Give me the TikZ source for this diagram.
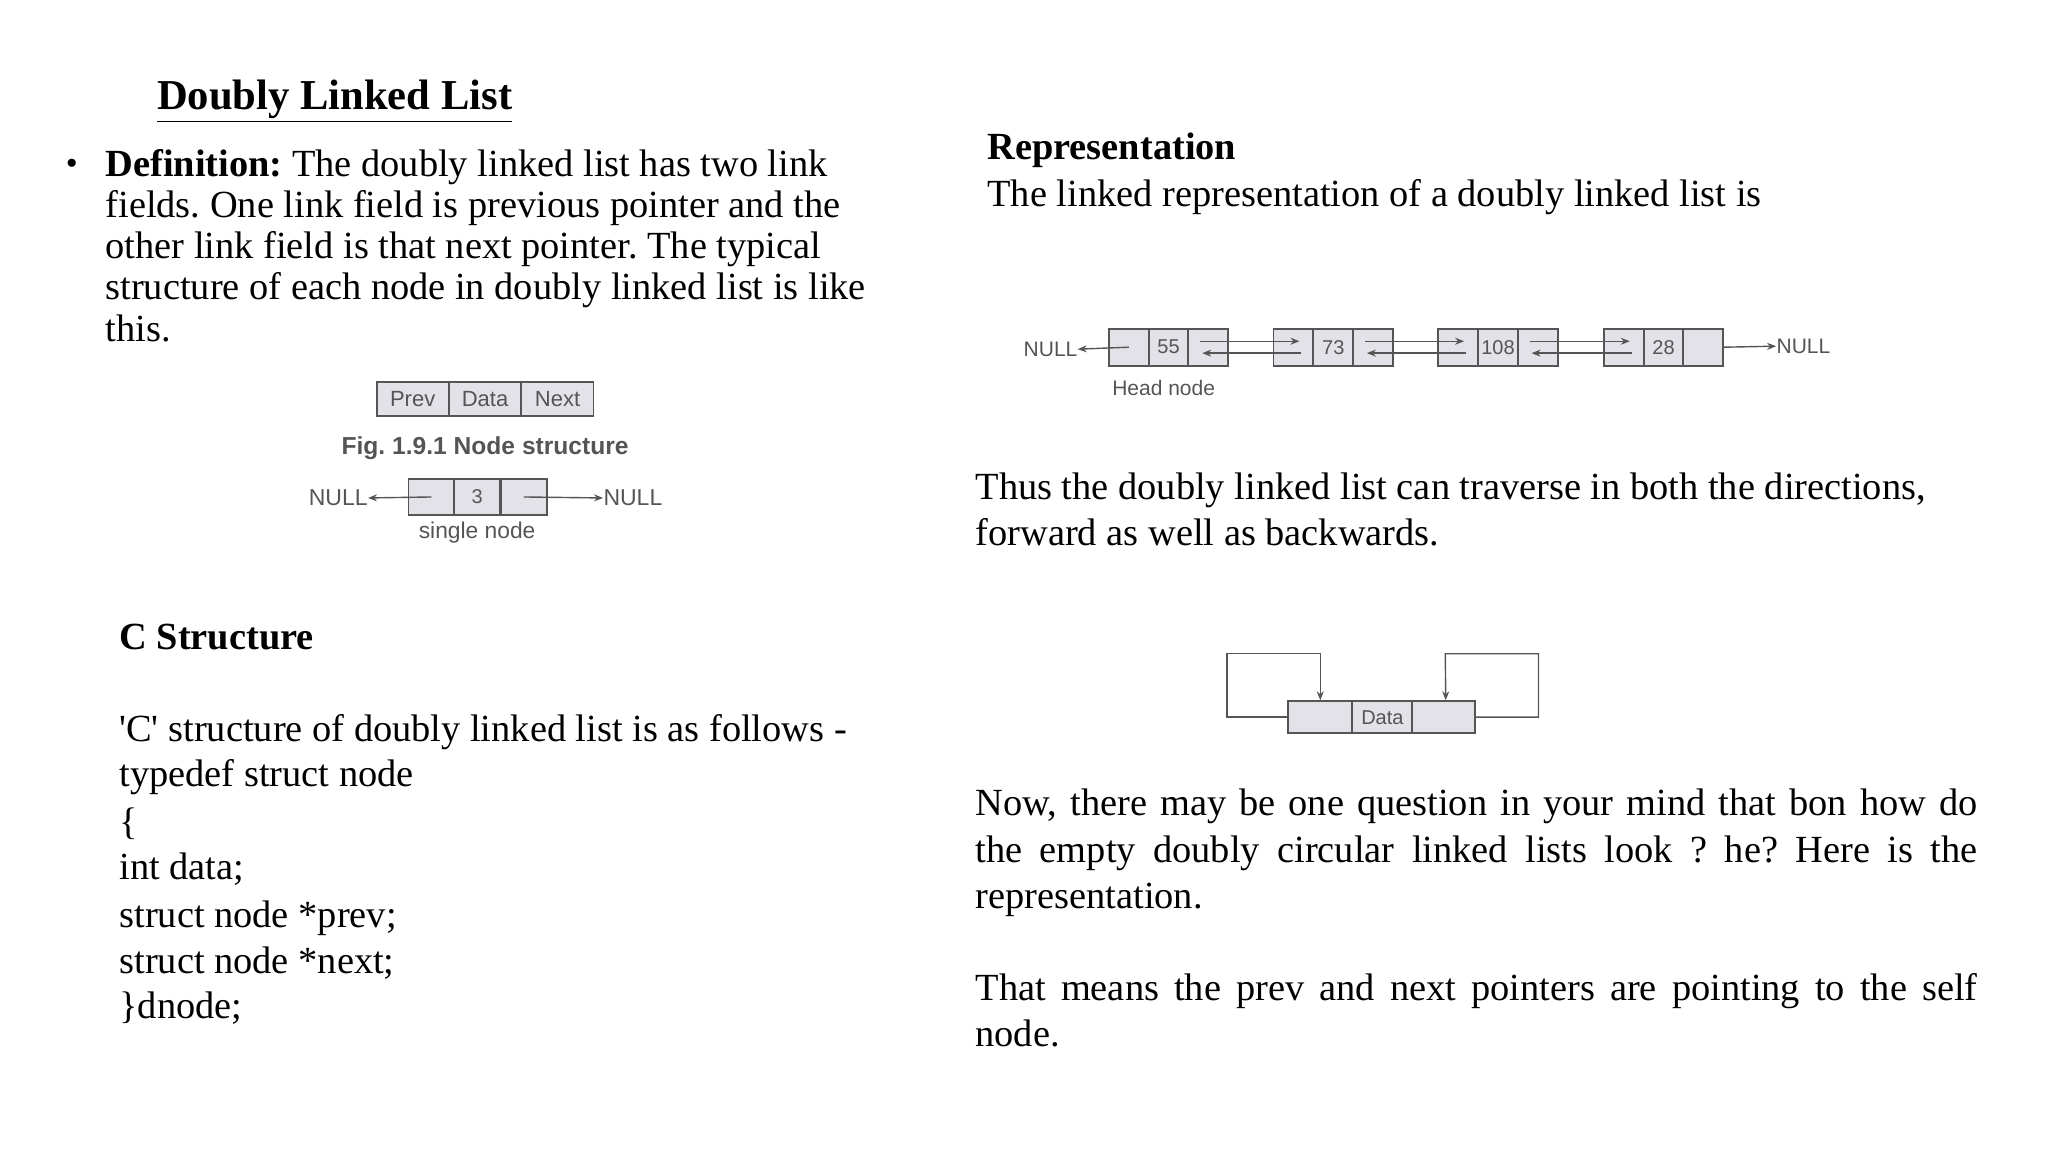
\documentclass[tikz,border=0pt]{standalone}
\usepackage{fontspec}
\setmainfont{Liberation Serif}
\newfontfamily\dsans{Liberation Sans}
\usetikzlibrary{arrows.meta}
\frenchspacing
\definecolor{cellfill}{HTML}{E2E2E8}
\definecolor{ink}{HTML}{555555}
\tikzset{
  txt/.style={anchor=base west, inner sep=0pt, font=\fontsize{19.2}{22}\selectfont},
  hdr/.style={anchor=base west, inner sep=0pt, font=\bfseries\fontsize{19.2}{22}\selectfont},
  cell/.style={draw=ink, line width=0.9pt, fill=cellfill, minimum width=#1, minimum height=18pt, inner sep=0pt, font=\dsans\fontsize{10}{12}\selectfont, text=ink},
  lbl/.style={inner sep=0pt, font=\dsans\fontsize{10.5}{12}\selectfont, text=ink},
  ptr/.style={draw=ink, line width=0.7pt, -{Stealth[length=4.5pt,width=3.5pt]}},
}
\begin{document}
\begin{tikzpicture}[x=0.5pt,y=-0.5pt]
\useasboundingbox (0,0) rectangle (2048,1152);
\begin{scope}[scale=0.992]
% Title
\node[anchor=base west, inner sep=0pt, font=\bfseries\fontsize{21.3}{25}\selectfont] (title) at (158,110) {\underline{Doubly Linked List}};
% bullet paragraph
\node[anchor=base west, inner sep=0pt, font=\fontsize{17}{20}\selectfont] (bul) at (66,176) {•};
\node[txt] (d1) at (106,178) {\textbf{Definition:} The doubly linked list has two link};
\node[txt] (d2) at (106,219) {fields. One link field is previous pointer and the};
\node[txt] (d3) at (106,261) {other link field is that next pointer. The typical};
\node[txt] (d4) at (106,302) {structure of each node in doubly linked list is like};
\node[txt] (d5) at (106,344) {this.};
% Node structure figure
\node[cell=36pt, minimum height=17pt, font=\dsans\fontsize{11}{13}\selectfont] (fp) at (416,402) {Prev};
\node[cell=36pt, minimum height=17pt, font=\dsans\fontsize{11}{13}\selectfont] (fd) at (489,402) {Data};
\node[cell=36pt, minimum height=17pt, font=\dsans\fontsize{11}{13}\selectfont] (fn) at (562,402) {Next};
\node[lbl, font=\dsans\bfseries\fontsize{12.3}{14}\selectfont] (cap) at (489,452) {Fig. 1.9.1 Node structure};
% single node
\node[cell=23pt] (sp) at (435,501) {};
\node[cell=23pt] (sd) at (481,501) {3};
\node[cell=23pt] (sn) at (528,501) {};
\node[lbl, font=\dsans\fontsize{11.5}{13}\selectfont] (snull1) at (341,502) {NULL};
\node[lbl, font=\dsans\fontsize{11.5}{13}\selectfont] (snull2) at (638,502) {NULL};
\node[lbl, font=\dsans\fontsize{11.4}{13}\selectfont] (slbl) at (481,537) {single node};
\draw[ptr] (sp.center) -- (snull1.east);
\draw[ptr] (sn.center) -- (snull2.west);
% C Structure
\node[hdr] (cs) at (120,655) {C Structure};
\node[txt] (c1) at (120,747) {\textquotesingle C\textquotesingle\ structure of doubly linked list is as follows -};
\node[txt] (c2) at (120,793) {typedef struct node};
\node[txt] (c3) at (120,841) {\{};
\node[txt] (c4) at (120,887) {int data;};
\node[txt] (c5) at (120,935) {struct node *prev;};
\node[txt] (c6) at (120,981) {struct node *next;};
\node[txt] (c7) at (120,1027) {\}dnode;};
% Representation
\node[hdr] (rep) at (995,161) {Representation};
\node[txt] (r1) at (995,208) {The linked representation of a doubly linked list is};
% linked list
\foreach \i/\x/\v in {1/1138/55,2/1304/73,3/1470/108,4/1637/28}{
  \node[cell=20pt, minimum height=18.5pt] (p\i) at (\x,350) {};
  \node[cell=20pt, minimum height=18.5pt] (d\i) at (\x+40,350) {\v};
  \node[cell=20pt, minimum height=18.5pt] (n\i) at (\x+80,350) {};
}
\node[lbl] (ln1) at (1059,352) {NULL};
\node[lbl] (ln2) at (1818,349) {NULL};
\node[lbl] (head) at (1173,391) {Head node};
\draw[ptr] (p1.center) -- (ln1.east);
\draw[ptr] (n4.east) -- (ln2.west);
\foreach \a/\b in {1/2,2/3,3/4}{
  \draw[ptr] ([xshift=-4pt,yshift=3pt]n\a.center) -- ([xshift=3pt,yshift=3pt]p\b.center);
  \draw[ptr] ([xshift=4pt,yshift=-3pt]p\b.center) -- ([xshift=-3pt,yshift=-3pt]n\a.center);
}
% Thus
\node[txt] (t1) at (983,504) {Thus the doubly linked list can traverse in both the directions,};
\node[txt] (t2) at (983,550) {forward as well as backwards.};
% self node
\node[cell=32pt, minimum height=16pt] (ep) at (1331,723) {};
\node[cell=30.5pt, minimum height=16pt] (ed) at (1393.5,723) {Data};
\node[cell=31.5pt, minimum height=16pt] (en) at (1455.5,723) {};
\coordinate (lc1) at (1237,723);
\coordinate (lc2) at (1237,659);
\coordinate (lc3) at (1331,659);
\coordinate (rc1) at (1551,723);
\coordinate (rc2) at (1551,659);
\coordinate (rc3) at (1457,659);
\draw[ptr] (ep.west) -- (lc1) -- (lc2) -- (lc3) -- (ep.north);
\draw[ptr] (en.east) -- (rc1) -- (rc2) -- (rc3) -- ([xshift=1pt]en.north);
% Now paragraph
\node[txt] (w1) at (983,822) {\makebox[501pt][s]{Now, there may be one question in your mind that bon how do}};
\node[txt] (w2) at (983,869) {\makebox[501pt][s]{the empty doubly circular linked lists look ? he? Here is the}};
\node[txt] (w3) at (983,916) {representation.};
\node[txt] (m1) at (983,1009) {\makebox[501pt][s]{That means the prev and next pointers are pointing to the self}};
\node[txt] (m2) at (983,1055) {node.};
\end{scope}
\end{tikzpicture}
\end{document}
